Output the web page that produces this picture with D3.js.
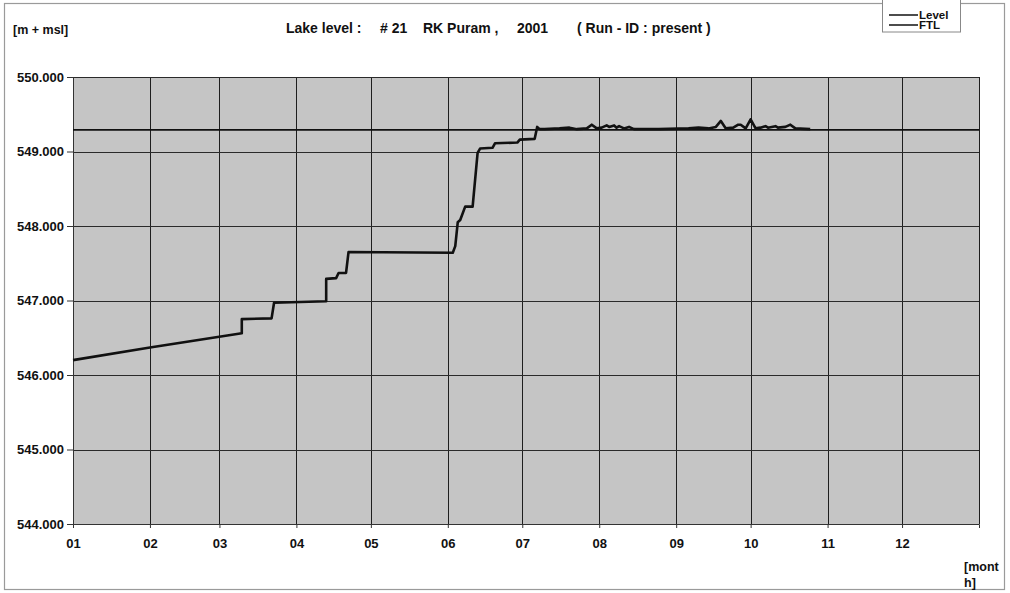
<!DOCTYPE html>
<html>
<head>
<meta charset="utf-8">
<script src="https://cdn.jsdelivr.net/npm/d3@7"></script>
<style>
    body { margin: 0; background: #fff; }
    svg { display: block; font-family: Arial, "Liberation Sans", sans-serif; font-weight: bold; }
</style>
</head>
<body>
<div id="chart"></div>
<script>
'use strict';

// lake level readings (2001)
const levelDates = [
    "01-01", "02-01", "03-10", "03-10", "03-22", "03-23", "04-13", "04-13", "04-17", "04-18",
    "04-21", "04-22", "06-03", "06-04", "06-05", "06-06", "06-08", "06-11", "06-13", "06-14",
    "06-19", "06-20", "06-29", "06-30", "07-06", "07-07", "07-08", "07-10", "07-16", "07-20",
    "07-23", "07-27", "07-29", "07-31", "08-02", "08-04", "08-05", "08-07", "08-08", "08-09",
    "08-11", "08-13", "08-15", "08-25", "09-06", "09-10", "09-14", "09-17", "09-19", "09-21",
    "09-24", "09-26", "09-27", "09-29", "10-01", "10-03", "10-05", "10-07", "10-08", "10-11",
    "10-12", "10-15", "10-17", "10-19", "10-25"
];
const levelValues = [
    546.20, 546.37, 546.56, 546.75, 546.76, 546.97, 546.99, 547.29, 547.30, 547.37,
    547.37, 547.65, 547.64, 547.73, 548.05, 548.08, 548.26, 548.26, 548.98, 549.04,
    549.05, 549.11, 549.12, 549.16, 549.17, 549.33, 549.30, 549.30, 549.31, 549.32,
    549.30, 549.31, 549.36, 549.31, 549.32, 549.35, 549.33, 549.35, 549.32, 549.34,
    549.31, 549.33, 549.30, 549.30, 549.31, 549.32, 549.31, 549.33, 549.41, 549.31,
    549.32, 549.36, 549.36, 549.31, 549.43, 549.31, 549.32, 549.34, 549.32, 549.34,
    549.32, 549.33, 549.36, 549.31, 549.30
];
// full tank level
const ftlValue = 549.29;

const yTicks = [544, 545, 546, 547, 548, 549, 550];
const titleParts = ["Lake level :", "# 21", "RK Puram ,", "2001", "( Run - ID : present )"];
const legendLabels = ["Level", "FTL"];

const width = 1010, height = 593;
const plot = { left: 73, right: 979, top: 77, bottom: 524 };
const titleX = [286, 380, 423, 517, 577];

const parseDate = d3.timeParse("%Y-%m-%d");
const levelData = levelDates.map((d, i) => ({ date: parseDate("2001-" + d), value: levelValues[i] }));

const svg = d3.select("#chart").append("svg")
    .attr("width", width)
    .attr("height", height);

// outer frame
svg.append("rect")
    .attr("x", 4.5).attr("y", 3.5)
    .attr("width", 1000).attr("height", 586)
    .attr("fill", "none")
    .attr("stroke", "#9a9a9a")
    .attr("stroke-width", 1.2);

const x = d3.scaleTime()
    .domain([parseDate("2001-01-01"), parseDate("2002-01-01")])
    .range([plot.left, plot.right]);

const y = d3.scaleLinear()
    .domain([544, 550])
    .range([plot.bottom, plot.top]);

// plot background
svg.append("rect")
    .attr("x", plot.left).attr("y", plot.top)
    .attr("width", plot.right - plot.left)
    .attr("height", plot.bottom - plot.top)
    .attr("fill", "#c5c5c5");

// grid lines
const months = x.ticks(d3.timeMonth.every(1)).filter(d => d.getFullYear() === 2001);
svg.append("g")
    .selectAll("line")
    .data(months.concat([x.domain()[1]]))
    .join("line")
    .attr("x1", d => Math.round(x(d)) + 0.5)
    .attr("x2", d => Math.round(x(d)) + 0.5)
    .attr("y1", plot.top)
    .attr("y2", plot.bottom)
    .attr("stroke", "#1e1e1e")
    .attr("stroke-width", 1);

svg.append("g")
    .selectAll("line")
    .data(yTicks)
    .join("line")
    .attr("x1", plot.left)
    .attr("x2", plot.right)
    .attr("y1", d => Math.round(y(d)) + 0.5)
    .attr("y2", d => Math.round(y(d)) + 0.5)
    .attr("stroke", "#2a2a2a")
    .attr("stroke-width", 1);

const styleTicks = g => g.selectAll("text")
    .attr("font-size", 13)
    .attr("font-weight", "bold")
    .attr("font-family", "Arial, 'Liberation Sans', sans-serif")
    .attr("fill", "#111");

// y axis
const yAxis = d3.axisLeft(y)
    .tickValues(yTicks)
    .tickFormat(d3.format(".3f"))
    .tickSize(6)
    .tickPadding(3);
svg.append("g")
    .attr("transform", `translate(${plot.left},0)`)
    .call(yAxis)
    .call(g => g.select(".domain").attr("stroke", "#333"))
    .call(g => g.selectAll(".tick line").attr("stroke", "#333"))
    .call(styleTicks);

// x axis
const xAxis = d3.axisBottom(x)
    .tickValues(months)
    .tickFormat(d3.timeFormat("%m"))
    .tickSize(4)
    .tickPadding(11);
svg.append("g")
    .attr("transform", `translate(0,${plot.bottom})`)
    .call(xAxis)
    .call(g => g.select(".domain").attr("stroke", "#333"))
    .call(g => g.selectAll(".tick line").attr("stroke", "#333"))
    .call(styleTicks);

// FTL line
svg.append("line")
    .attr("x1", plot.left)
    .attr("x2", plot.right)
    .attr("y1", y(ftlValue))
    .attr("y2", y(ftlValue))
    .attr("stroke", "#111")
    .attr("stroke-width", 1.8);

// level line
const line = d3.line()
    .x(d => x(d.date))
    .y(d => y(d.value));
svg.append("path")
    .datum(levelData)
    .attr("d", line)
    .attr("fill", "none")
    .attr("stroke", "#111")
    .attr("stroke-width", 2.6)
    .attr("stroke-linejoin", "round");

// texts
svg.append("text")
    .attr("x", 13).attr("y", 34)
    .attr("font-size", 12.5)
    .attr("fill", "#111")
    .text("[m + msl]");

svg.append("text")
    .attr("y", 33)
    .attr("font-size", 14)
    .attr("fill", "#111")
    .selectAll("tspan")
    .data(titleParts)
    .join("tspan")
    .attr("x", (d, i) => titleX[i])
    .text(d => d);

svg.append("text")
    .attr("x", 964).attr("y", 571)
    .attr("font-size", 12.5)
    .attr("fill", "#111")
    .text("[mont");
svg.append("text")
    .attr("x", 964).attr("y", 587)
    .attr("font-size", 12.5)
    .attr("fill", "#111")
    .text("h]");

// legend
const legend = svg.append("g");
legend.append("rect")
    .attr("x", 882.5).attr("y", -1)
    .attr("width", 78).attr("height", 33)
    .attr("fill", "#fff")
    .attr("stroke", "#888")
    .attr("stroke-width", 1);
legend.selectAll("line")
    .data(legendLabels)
    .join("line")
    .attr("x1", 889).attr("x2", 918)
    .attr("y1", (d, i) => 15 + i * 10)
    .attr("y2", (d, i) => 15 + i * 10)
    .attr("stroke", "#111")
    .attr("stroke-width", 1.5);
legend.selectAll("text")
    .data(legendLabels)
    .join("text")
    .attr("x", 919)
    .attr("y", (d, i) => 19 + i * 10)
    .attr("font-size", 11.5)
    .attr("fill", "#111")
    .text(d => d);
</script>
</body>
</html>
